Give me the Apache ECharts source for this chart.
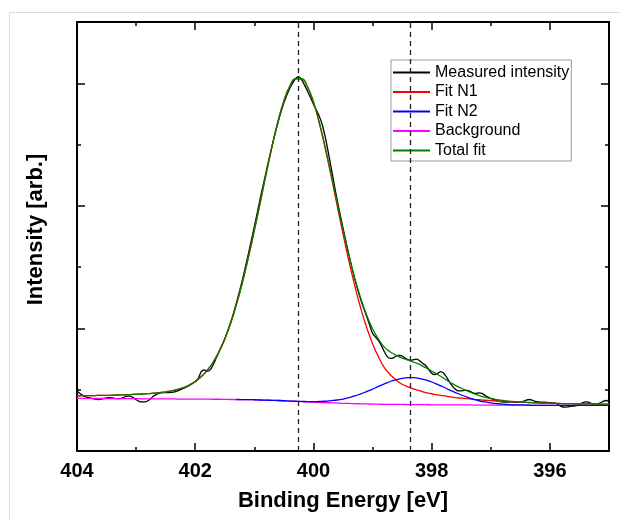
<!DOCTYPE html>
<html>
<head>
<meta charset="utf-8">
<script src="https://cdn.jsdelivr.net/npm/echarts@6/dist/echarts.min.js"></script>
<style>
html,body{margin:0;padding:0;background:#fff;}
#frame{position:absolute;left:9px;top:12px;width:640px;height:540px;border-top:1px solid #dcdcdc;border-left:1px solid #dcdcdc;}
#chart{position:absolute;left:0;top:0;width:620px;height:519px;}
</style>
</head>
<body>
<div id="frame"></div>
<div id="chart"></div>
<script>
// Binding energy grid for fit curves (eV)
const fitE = [404.0,403.9,403.8,403.7,403.6,403.5,403.4,403.3,403.2,403.1,
403.0,402.9,402.8,402.7,402.6,402.5,402.4,402.3,402.2,402.1,
402.0,401.9,401.8,401.7,401.6,401.5,401.4,401.3,401.2,401.1,
401.0,400.9,400.8,400.7,400.6,400.5,400.4,400.3,400.2,400.1,
400.0,399.9,399.8,399.7,399.6,399.5,399.4,399.3,399.2,399.1,
399.0,398.9,398.8,398.7,398.6,398.5,398.4,398.3,398.2,398.1,
398.0,397.9,397.8,397.7,397.6,397.5,397.4,397.3,397.2,397.1,
397.0,396.9,396.8,396.7,396.6,396.5,396.4,396.3,396.2,396.1,
396.0,395.9,395.8,395.7,395.6,395.5,395.4,395.3,395.2,395.1,
395.0];

const background = [.430,.430,.429,.429,.429,.428,.428,.428,.427,.427,
.427,.426,.426,.426,.425,.425,.425,.424,.424,.424,
.424,.423,.423,.422,.422,.421,.420,.420,.419,.419,
.418,.416,.415,.413,.412,.410,.407,.405,.403,.400,
.398,.396,.394,.393,.391,.389,.388,.386,.385,.384,
.383,.382,.381,.381,.380,.380,.379,.379,.378,.378,
.377,.377,.377,.376,.376,.376,.376,.375,.375,.375,
.375,.375,.374,.374,.374,.374,.374,.373,.373,.373,
.373,.373,.373,.373,.372,.372,.372,.372,.372,.372,
.372];

const fitN1 = [.450,.451,.451,.452,.454,.454,.455,.457,.458,.460,
.463,.465,.468,.472,.476,.483,.491,.502,.517,.538,
.567,.605,.656,.722,.808,.914,1.044,1.200,1.379,1.581,
1.800,2.029,2.262,2.485,2.688,2.856,2.975,3.037,3.035,2.968,
2.844,2.672,2.466,2.240,2.004,1.771,1.550,1.346,1.165,1.008,
0.876,0.768,0.681,0.622,0.579,0.545,0.523,0.505,0.491,0.477,
0.467,0.458,0.451,0.443,0.435,0.431,0.427,0.422,0.418,0.414,
0.411,0.408,0.404,0.402,0.400,0.398,0.396,0.394,0.392,0.391,
0.390,0.389,0.387,0.387,0.385,0.385,0.384,0.384,0.383,0.383,
0.382];

const fitN2 = [null,null,null,null,null,null,null,null,null,null,
null,null,null,null,null,null,null,null,null,null,
null,null,null,null,null,null,null,.420,.419,.419,
.418,.416,.415,.413,.412,.410,.407,.406,.405,.403,
.403,.404,.406,.411,.416,.424,.436,.449,.466,.485,
.505,.527,.547,.567,.582,.593,.598,.598,.591,.580,
.563,.543,.522,.498,.477,.457,.439,.423,.410,.400,
.393,.387,.382,.379,.377,.376,.375,.373,.373,.373,
.373,.373,.373,.373,.372,.372,.372,.372,.372,.372,
.372];

const totalFit = [.450,.451,.451,.452,.454,.454,.455,.457,.458,.460,
.463,.465,.468,.472,.476,.483,.491,.502,.517,.538,
.567,.605,.656,.722,.808,.914,1.044,1.200,1.379,1.581,
1.800,2.029,2.262,2.485,2.688,2.856,2.975,3.038,3.037,2.971,
2.849,2.680,2.478,2.258,2.029,1.806,1.598,1.409,1.246,1.109,
0.998,0.913,0.847,0.808,0.781,0.758,0.742,0.724,0.704,0.679,
0.653,0.624,0.596,0.563,0.536,0.512,0.490,0.470,0.453,0.439,
0.429,0.420,0.412,0.407,0.403,0.400,0.397,0.394,0.392,0.391,
0.390,0.389,0.387,0.387,0.385,0.385,0.384,0.384,0.383,0.383,
0.382];

// Measured spectrum
const measE = [404.00,403.95,403.90,403.85,403.80,403.75,403.70,403.65,403.60,403.55,
403.50,403.45,403.40,403.35,403.30,403.25,403.20,403.15,403.10,403.05,
403.00,402.95,402.90,402.85,402.80,402.75,402.70,402.65,402.60,402.55,
402.50,402.45,402.40,402.35,402.30,402.25,402.20,402.15,402.10,402.05,
402.00,401.95,401.90,401.85,401.80,401.75,401.70,401.65,401.60,
401.5,401.4,401.3,401.2,401.1,401.0,400.9,400.8,400.7,400.6,400.5,400.4,400.3,
400.25,400.2,400.15,400.1,400.05,400.0,399.95,399.9,399.85,399.8,399.75,399.7,
399.6,399.5,399.4,399.3,399.2,399.1,399.05,
399.00,398.95,398.90,398.85,398.80,398.75,398.70,398.65,398.60,398.55,
398.50,398.45,398.40,398.35,398.30,398.25,398.20,398.15,398.10,398.05,
398.00,397.95,397.90,397.85,397.80,397.75,397.70,397.65,397.60,397.55,
397.50,397.45,397.40,397.35,397.30,397.25,397.20,397.15,397.10,397.05,
397.00,396.95,396.90,396.85,396.80,396.75,396.70,396.65,396.60,396.55,
396.50,396.45,396.40,396.35,396.30,396.25,396.20,396.15,396.10,396.05,
396.00,395.95,395.90,395.85,395.80,395.75,395.70,395.65,395.60,395.55,
395.50,395.45,395.40,395.35,395.30,395.25,395.20,395.15,395.10,395.05,
395.00];
const measI = [0.490,0.470,0.452,0.441,0.436,0.430,0.424,0.420,0.421,0.428,
0.434,0.436,0.433,0.428,0.427,0.430,0.440,0.448,0.447,0.435,
0.418,0.405,0.400,0.401,0.410,0.428,0.450,0.462,0.472,0.476,
0.477,0.477,0.478,0.482,0.490,0.500,0.510,0.522,0.535,0.550,
0.565,0.590,0.645,0.662,0.650,0.660,0.700,0.752,0.805,
0.915,1.050,1.215,1.400,1.610,1.830,2.060,2.280,2.490,2.680,2.840,2.960,3.040,
3.055,3.030,2.985,2.935,2.885,2.830,2.780,2.730,2.660,2.560,2.440,2.310,
2.050,1.820,1.600,1.400,1.235,1.100,1.030,
0.960,0.930,0.900,0.860,0.810,0.770,0.755,0.760,0.775,0.780,
0.775,0.758,0.745,0.740,0.745,0.750,0.735,0.713,0.697,0.665,
0.635,0.624,0.633,0.647,0.636,0.604,0.565,0.530,0.505,0.490,
0.490,0.495,0.495,0.487,0.475,0.470,0.475,0.470,0.455,0.440,
0.428,0.420,0.412,0.405,0.400,0.398,0.398,0.400,0.398,0.396,
0.398,0.405,0.415,0.420,0.415,0.405,0.400,0.398,0.398,0.396,
0.394,0.392,0.388,0.375,0.362,0.358,0.360,0.365,0.366,0.370,
0.380,0.392,0.400,0.398,0.388,0.382,0.383,0.392,0.405,0.412,
0.405];

const peakPositions = [400.26, 398.37];
const xMajor = [396, 398, 400, 402, 404];
const xMinor = [395, 397, 399, 401, 403];
const yMajor = [1, 2, 3];
const yMinor = [0.5, 1.5, 2.5];
const names = ['Measured intensity', 'Fit N1', 'Fit N2', 'Background', 'Total fit'];

const FONT = '"Liberation Sans", Arial, sans-serif';
function zip(xs, ys) { return xs.map((x, i) => [x, ys[i]]); }

function xAx(pos, ticks, len, main) {
  return {
    type: 'value', min: 395, max: 404, inverse: true, position: pos,
    name: main && pos === 'bottom' ? 'Binding Energy [eV]' : '',
    nameLocation: 'middle', nameGap: 39,
    nameTextStyle: {fontFamily: FONT, fontSize: 22, fontWeight: 'bold', color: '#000'},
    axisLine: {show: main, onZero: false, lineStyle: {color: '#000', width: 2}},
    axisTick: {show: true, inside: true, length: len, customValues: ticks, lineStyle: {color: '#000', width: 1.5}},
    axisLabel: {show: main && pos === 'bottom', customValues: ticks, margin: 10,
      fontFamily: FONT, fontSize: 20, fontWeight: 'bold', color: '#000'},
    splitLine: {show: false}
  };
}
function yAx(pos, ticks, len, main) {
  return {
    type: 'value', min: 0, max: 3.5, position: pos,
    name: main && pos === 'left' ? 'Intensity [arb.]' : '',
    nameLocation: 'middle', nameGap: 30,
    nameTextStyle: {fontFamily: FONT, fontSize: 22, fontWeight: 'bold', color: '#000', padding: [0, 0, 0, 14]},
    axisLine: {show: main, onZero: false, lineStyle: {color: '#000', width: 2}},
    axisTick: {show: true, inside: true, length: len, customValues: ticks, lineStyle: {color: '#000', width: 1.5}},
    axisLabel: {show: false},
    splitLine: {show: false}
  };
}

const lw = 1.3;
const chart = echarts.init(document.getElementById('chart'), null, {renderer: 'canvas'});
chart.setOption({
  animation: false,
  grid: {left: 77, right: 11, top: 22, bottom: 68},
  xAxis: [xAx('bottom', xMajor, 8, true), xAx('bottom', xMinor, 4, false),
          xAx('top', xMajor, 8, true), xAx('top', xMinor, 4, false)],
  yAxis: [yAx('left', yMajor, 8, true), yAx('left', yMinor, 4, false),
          yAx('right', yMajor, 8, true), yAx('right', yMinor, 4, false)],
  legend: {
    orient: 'vertical', left: 391, top: 60, itemWidth: 37, itemHeight: 2, itemGap: 2.5,
    padding: [4, 2, 2, 2], borderColor: '#999', borderWidth: 1, backgroundColor: '#fff',
    icon: 'rect', textStyle: {fontFamily: FONT, fontSize: 16, color: '#000', lineHeight: 17},
    data: names
  },
  series: [
    {name: names[0], type: 'line', data: zip(measE, measI), showSymbol: false, smooth: 0.3, z: 2,
     lineStyle: {color: '#000', width: lw}, itemStyle: {color: '#000'},
     markLine: {symbol: 'none', silent: true, label: {show: false},
       lineStyle: {type: [5, 4], color: '#222', width: 1.3},
       data: peakPositions.map(v => ({xAxis: v}))}},
    {name: names[1], type: 'line', data: zip(fitE, fitN1), showSymbol: false, smooth: true, z: 3,
     lineStyle: {color: '#ff0000', width: lw}, itemStyle: {color: '#ff0000'}},
    {name: names[2], type: 'line', data: zip(fitE, fitN2), showSymbol: false, smooth: true, z: 5,
     lineStyle: {color: '#0000ff', width: lw}, itemStyle: {color: '#0000ff'}},
    {name: names[3], type: 'line', data: zip(fitE, background), showSymbol: false, smooth: true, z: 4,
     lineStyle: {color: '#ff00ff', width: lw}, itemStyle: {color: '#ff00ff'}},
    {name: names[4], type: 'line', data: zip(fitE, totalFit), showSymbol: false, smooth: true, z: 6,
     lineStyle: {color: '#008000', width: lw}, itemStyle: {color: '#008000'}}
  ]
});
</script>
</body>
</html>
